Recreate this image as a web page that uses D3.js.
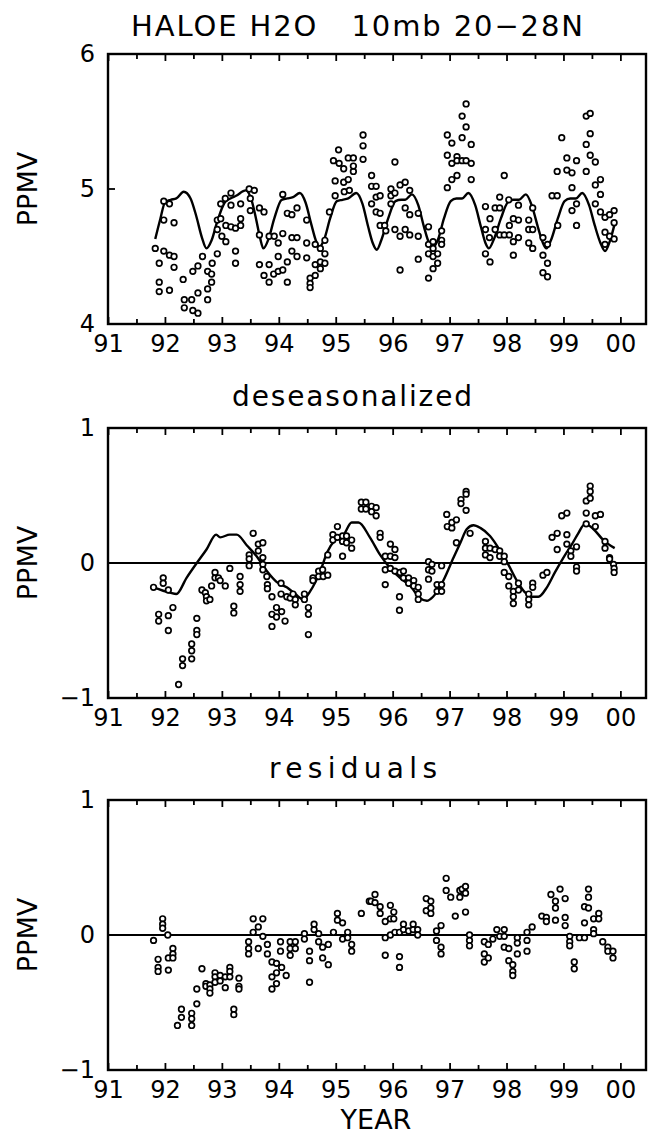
<!DOCTYPE html>
<html>
<head>
<meta charset="utf-8">
<script src="https://cdn.jsdelivr.net/npm/d3@7"></script>
<style>
  body { margin: 0; background: #fff; }
  text { font-family: "DejaVu Sans", "Liberation Sans", sans-serif; fill: #000; }
</style>
</head>
<body>
<svg id="chart"></svg>
<script>
// year ticks and labels
const yearTicks = [91, 92, 93, 94, 95, 96, 97, 98, 99, 100];
const yearLabels = ["91", "92", "93", "94", "95", "96", "97", "98", "99", "00"];
const halfYearTicks = [91.5, 92.5, 93.5, 94.5, 95.5, 96.5, 97.5, 98.5, 99.5];

// panel 1 : HALOE H2O observations [year, ppmv]
const h2oObs = [
  [91.83,4.56],[91.90,4.45],[91.90,4.31],[91.90,4.24],[91.98,4.91],[92.08,4.89],[91.98,4.77],[92.16,4.75],
  [91.98,4.54],[92.08,4.51],[92.16,4.50],[92.16,4.42],[92.08,4.25],[92.32,4.33],[92.34,4.18],[92.34,4.12],
  [92.47,4.18],[92.49,4.39],[92.58,4.43],[92.58,4.23],[92.49,4.10],[92.58,4.08],[92.66,4.50],[92.75,4.39],
  [92.75,4.26],[92.75,4.18],[92.82,4.37],[92.82,4.31],[92.83,4.45],[92.92,4.52],[92.92,4.70],[92.92,4.77],
  [92.98,4.78],[92.98,4.89],[93.06,4.93],[93.00,4.65],[93.07,4.61],[93.07,4.73],[93.16,4.97],[93.16,4.88],
  [93.16,4.72],[93.24,4.71],[93.24,4.54],[93.24,4.45],[93.33,4.89],[93.33,4.78],[93.33,4.73],[93.48,5.00],
  [93.57,4.99],[93.50,4.93],[93.50,4.84],[93.66,4.86],[93.74,4.83],[93.66,4.66],[93.66,4.44],[93.74,4.36],
  [93.83,4.31],[93.83,4.44],[93.83,4.65],[93.92,4.65],[93.91,4.37],[93.99,4.60],[93.99,4.50],[93.99,4.39],
  [94.07,4.40],[94.07,4.67],[94.07,4.96],[94.15,4.46],[94.15,4.31],[94.15,4.82],[94.23,4.64],[94.23,4.54],
  [94.23,4.81],[94.32,4.64],[94.32,4.86],[94.32,4.50],[94.49,4.77],[94.49,4.60],[94.49,4.49],[94.55,4.34],
  [94.55,4.30],[94.55,4.27],[94.64,4.59],[94.64,4.36],[94.64,4.44],[94.73,4.46],[94.73,4.56],[94.73,4.41],
  [94.81,4.62],[94.81,4.52],[94.81,4.45],[94.89,4.83],[94.99,4.95],[94.99,5.06],[94.96,5.21],[95.05,5.29],
  [95.06,5.19],[95.14,5.15],[95.14,5.05],[95.22,5.07],[95.22,5.23],[95.15,4.98],[95.24,4.99],[95.31,5.23],
  [95.31,5.13],[95.31,5.17],[95.48,5.40],[95.48,5.32],[95.48,5.22],
  [95.63,5.10],[95.63,5.02],[95.71,5.02],[95.71,4.94],[95.78,4.95],[95.63,4.89],[95.71,4.83],[95.78,4.82],
  [95.78,4.73],[95.86,4.73],[95.88,4.69],[95.97,5.00],[95.97,4.95],[95.97,4.89],[96.04,5.20],[96.04,4.97],
  [96.04,4.70],[96.13,5.03],[96.22,5.05],[96.13,4.65],[96.22,4.86],[96.22,4.70],[96.30,4.99],[96.30,4.81],
  [96.30,4.66],[96.13,4.40],[96.45,4.82],[96.45,4.65],[96.45,4.48],[96.63,4.72],[96.63,4.59],[96.63,4.52],
  [96.63,4.34],[96.71,4.61],[96.71,4.56],[96.71,4.50],[96.71,4.41],[96.79,4.52],[96.79,4.45],[96.86,4.69],
  [96.86,4.62],[96.86,4.59],[96.96,5.40],[96.96,5.25],[96.96,5.01],[97.04,5.34],[97.04,5.19],[97.04,5.07],
  [97.13,5.24],[97.13,5.21],[97.13,5.10],[97.22,5.54],[97.22,5.38],[97.22,5.21],[97.29,5.63],[97.29,5.46],
  [97.29,5.21],[97.38,5.33],[97.38,5.19],[97.38,5.07],[97.63,4.87],[97.63,4.70],[97.63,4.52],[97.70,4.64],
  [97.71,4.78],[97.71,4.46],[97.80,4.86],[97.80,4.70],[97.88,4.94],[97.88,4.86],[97.88,4.66],[97.96,5.10],
  [97.96,4.66],[98.04,4.92],[98.05,4.73],[98.05,4.66],[98.12,4.78],[98.12,4.61],[98.12,4.51],[98.21,4.88],
  [98.21,4.77],[98.21,4.64],[98.39,4.77],[98.39,4.70],[98.39,4.60],[98.46,4.86],[98.46,4.70],[98.46,4.56],
  [98.64,4.64],[98.64,4.51],[98.64,4.38],[98.72,4.59],[98.72,4.45],[98.72,4.35],[98.80,4.95],[98.89,4.95],
  [98.90,4.73],[98.97,5.38],[99.06,5.23],[99.06,5.14],[99.15,5.12],[99.15,5.01],[99.15,4.84],[99.23,5.21],
  [99.23,4.89],[99.23,4.73],[98.89,5.13],[99.40,5.54],[99.47,5.56],[99.47,5.41],[99.40,5.33],[99.40,5.13],
  [99.47,5.25],[99.56,5.20],[99.56,5.03],[99.65,5.07],[99.65,4.96],[99.56,4.89],[99.65,4.83],[99.73,4.79],
  [99.73,4.68],[99.73,4.59],[99.81,4.81],[99.81,4.65],[99.89,4.84],[99.89,4.75],[99.89,4.63]
];

// panel 1 : fitted seasonal curve [year, ppmv]
const h2oFit = [
  [91.83,4.63],[91.92,4.78],[92.00,4.90],[92.10,4.92],[92.20,4.93],[92.33,4.98],[92.45,4.93],[92.55,4.80],
  [92.65,4.64],[92.73,4.56],[92.82,4.62],[92.92,4.76],[93.05,4.90],[93.15,4.93],[93.25,4.95],[93.42,4.99],
  [93.52,4.92],[93.60,4.78],[93.67,4.64],[93.73,4.56],[93.82,4.63],[93.92,4.78],[94.05,4.92],[94.15,4.93],
  [94.25,4.94],[94.37,4.97],[94.47,4.90],[94.57,4.74],[94.65,4.62],[94.71,4.57],[94.80,4.63],[94.90,4.78],
  [95.02,4.91],[95.12,4.92],[95.22,4.93],[95.36,4.97],[95.47,4.89],[95.57,4.72],[95.65,4.60],[95.72,4.55],
  [95.80,4.62],[95.92,4.78],[96.05,4.91],[96.15,4.92],[96.22,4.92],[96.34,4.96],[96.45,4.88],[96.55,4.72],
  [96.64,4.60],[96.71,4.57],[96.80,4.63],[96.90,4.78],[97.02,4.91],[97.12,4.93],[97.22,4.93],[97.33,4.97],
  [97.45,4.88],[97.55,4.72],[97.63,4.60],[97.69,4.56],[97.78,4.63],[97.90,4.78],[98.02,4.90],[98.12,4.92],
  [98.22,4.92],[98.34,4.96],[98.45,4.87],[98.55,4.72],[98.63,4.61],[98.70,4.56],[98.78,4.62],[98.90,4.78],
  [99.02,4.91],[99.12,4.93],[99.22,4.93],[99.33,4.97],[99.45,4.88],[99.55,4.73],[99.65,4.60],[99.73,4.54],
  [99.82,4.62],[99.91,4.76]
];

// panel 2 : deseasonalized anomalies [year, ppmv]
const deseasObs = [
  [91.80,-0.18],[91.97,-0.11],[91.97,-0.15],[92.06,-0.20],[91.89,-0.38],[91.89,-0.43],[92.06,-0.39],[92.14,-0.33],
  [92.06,-0.50],[92.24,-0.90],[92.31,-0.71],[92.31,-0.76],[92.47,-0.60],[92.47,-0.65],[92.47,-0.71],[92.56,-0.41],
  [92.56,-0.50],[92.56,-0.53],[92.65,-0.20],[92.71,-0.22],[92.73,-0.25],[92.73,-0.28],[92.79,-0.27],[92.82,-0.17],
  [92.88,-0.07],[92.88,-0.11],[92.94,-0.11],[92.97,-0.13],[93.06,-0.17],[93.14,-0.04],[93.21,-0.32],[93.21,-0.37],
  [93.32,-0.10],[93.32,-0.16],[93.32,-0.21],[93.48,0.06],[93.48,0.03],[93.48,-0.02],[93.55,0.22],[93.64,0.14],
  [93.64,0.09],[93.72,0.15],[93.72,0.04],[93.72,-0.01],[93.72,-0.05],[93.79,-0.10],[93.80,-0.16],[93.80,-0.19],
  [93.88,-0.25],[93.88,-0.38],[93.88,-0.47],[93.96,-0.33],[93.96,-0.40],[94.04,-0.15],[94.04,-0.23],[94.05,-0.36],
  [94.11,-0.43],[94.14,-0.25],[94.20,-0.26],[94.25,-0.23],[94.29,-0.27],[94.29,-0.31],[94.45,-0.23],[94.45,-0.27],
  [94.52,-0.33],[94.52,-0.38],[94.52,-0.53],[94.60,-0.11],[94.60,-0.13],[94.70,-0.06],[94.70,-0.10],[94.77,-0.05],
  [94.78,-0.10],[94.86,-0.09],[94.86,0.06],[94.95,0.21],[94.95,0.17],[95.03,0.27],[95.03,0.19],[95.12,0.20],
  [95.12,0.16],[95.12,0.05],[95.19,0.20],[95.19,0.15],[95.28,0.11],[95.28,0.17],[95.45,0.45],[95.45,0.40],
  [95.53,0.45],[95.53,0.40],
  [95.63,0.42],[95.63,0.38],[95.71,0.41],[95.71,0.35],[95.78,0.22],[95.78,0.19],[95.87,0.05],[95.96,0.14],
  [95.96,0.05],[96.04,0.10],[96.04,0.04],[95.87,-0.05],[95.96,-0.04],[96.04,-0.06],[95.87,-0.16],[96.13,-0.07],
  [96.19,-0.06],[96.19,-0.11],[96.28,-0.11],[96.28,-0.15],[96.37,-0.13],[96.37,-0.17],[96.45,-0.18],[96.45,-0.23],
  [96.45,-0.27],[96.12,-0.25],[96.12,-0.35],[96.63,0.01],[96.63,-0.05],[96.69,-0.01],[96.69,-0.06],[96.63,-0.12],
  [96.78,-0.16],[96.78,-0.21],[96.86,-0.16],[96.86,-0.21],[96.86,-0.02],[96.95,0.36],[96.96,0.27],[97.04,0.26],
  [97.04,0.30],[97.12,0.32],[97.12,0.15],[97.20,0.47],[97.20,0.44],[97.29,0.53],[97.29,0.51],[97.29,0.39],
  [97.36,0.22],[97.63,0.16],[97.63,0.11],[97.63,0.06],[97.71,0.11],[97.71,0.04],[97.80,0.10],[97.88,0.09],
  [97.88,0.05],[97.96,0.05],[97.96,0.01],[97.96,-0.07],[98.04,-0.10],[98.04,-0.17],[98.12,-0.21],[98.12,-0.25],
  [98.12,-0.30],[98.21,-0.15],[98.21,-0.20],[98.39,-0.23],[98.39,-0.27],[98.39,-0.31],[98.46,-0.15],[98.46,-0.18],
  [98.64,-0.09],[98.71,-0.07],[98.80,0.19],[98.89,0.22],[98.89,0.10],[98.97,0.35],[99.06,0.37],[99.06,0.21],
  [99.06,0.14],[99.13,0.09],[99.13,0.05],[99.23,0.12],[99.23,-0.03],[99.23,-0.06],[99.40,0.46],[99.40,0.37],
  [99.40,0.29],[99.47,0.57],[99.47,0.53],[99.47,0.48],[99.56,0.35],[99.56,0.27],[99.65,0.36],[99.73,0.16],
  [99.73,0.11],[99.81,0.04],[99.81,0.03],[99.88,-0.01],[99.89,-0.04],[99.89,-0.07]
];

// panel 2 : interannual fit [year, ppmv]
const deseasFit = [
  [91.80,-0.18],[92.09,-0.22],[92.20,-0.23],[92.38,-0.11],[92.56,0.00],[92.73,0.10],[92.90,0.21],[92.97,0.19],
  [93.14,0.21],[93.26,0.21],[93.44,0.13],[93.61,0.05],[93.79,-0.06],[93.96,-0.14],[94.14,-0.18],[94.29,-0.23],
  [94.43,-0.27],[94.55,-0.21],[94.73,-0.06],[94.85,0.08],[94.99,0.17],[95.14,0.21],[95.28,0.30],[95.40,0.30],
  [95.60,0.19],[95.78,0.06],[95.96,-0.04],[96.13,-0.11],[96.31,-0.17],[96.48,-0.26],[96.60,-0.28],[96.71,-0.25],
  [96.89,-0.13],[97.07,0.04],[97.19,0.15],[97.30,0.25],[97.42,0.28],[97.54,0.26],[97.71,0.20],[97.89,0.09],
  [98.03,-0.01],[98.18,-0.13],[98.33,-0.22],[98.45,-0.25],[98.56,-0.25],[98.71,-0.18],[98.85,-0.07],[99.00,0.04],
  [99.15,0.14],[99.26,0.22],[99.38,0.29],[99.53,0.25],[99.70,0.17],[99.90,0.11]
];

// panel 3 : residuals [year, ppmv]
const residObs = [
  [91.80,-0.04],[91.96,0.12],[91.96,0.08],[91.96,0.05],[92.05,0.00],[91.88,-0.18],[91.88,-0.24],[91.88,-0.27],
  [92.06,-0.26],[92.06,-0.17],[92.14,-0.10],[92.14,-0.14],[92.14,-0.17],[92.22,-0.67],[92.29,-0.55],[92.29,-0.61],
  [92.47,-0.58],[92.47,-0.62],[92.47,-0.67],[92.56,-0.51],[92.56,-0.40],[92.65,-0.25],[92.72,-0.36],[92.72,-0.38],
  [92.79,-0.37],[92.79,-0.40],[92.79,-0.43],[92.88,-0.28],[92.88,-0.31],[92.88,-0.35],[92.97,-0.30],[92.97,-0.34],
  [93.06,-0.39],[93.06,-0.31],[93.14,-0.24],[93.14,-0.27],[93.14,-0.31],[93.21,-0.55],[93.21,-0.59],[93.30,-0.32],
  [93.30,-0.38],[93.30,-0.40],[93.47,-0.05],[93.47,-0.10],[93.47,-0.14],[93.55,0.12],[93.55,0.02],[93.64,0.06],
  [93.64,-0.10],[93.72,0.12],[93.72,-0.01],[93.80,-0.07],[93.80,-0.14],[93.88,-0.20],[93.88,-0.31],[93.88,-0.40],
  [93.96,-0.21],[93.96,-0.28],[93.96,-0.36],[94.03,-0.05],[94.03,-0.12],[94.05,-0.24],[94.13,-0.30],[94.20,-0.05],
  [94.20,-0.10],[94.20,-0.15],[94.29,-0.05],[94.29,-0.10],[94.45,0.01],[94.45,-0.03],[94.54,-0.12],[94.54,-0.19],
  [94.54,-0.35],[94.62,0.08],[94.62,0.04],[94.70,0.01],[94.70,-0.05],[94.77,-0.09],[94.77,-0.17],[94.87,-0.07],
  [94.87,-0.22],[94.96,0.02],[95.03,0.16],[95.03,0.11],[95.12,0.09],[95.12,-0.03],[95.21,0.02],[95.21,-0.02],
  [95.28,-0.07],[95.28,-0.12],[95.45,0.16],[95.59,0.25],
  [95.62,0.25],[95.69,0.30],[95.69,0.24],[95.78,0.21],[95.78,0.16],[95.87,0.10],[95.96,0.22],[95.96,0.12],
  [96.02,0.17],[96.02,0.12],[95.87,-0.02],[95.87,-0.15],[95.96,0.00],[96.04,0.02],[96.12,0.02],[96.12,-0.16],
  [96.12,-0.24],[96.19,0.08],[96.19,0.04],[96.28,0.03],[96.36,0.08],[96.36,0.04],[96.44,0.04],[96.44,0.00],
  [96.59,0.27],[96.59,0.18],[96.67,0.25],[96.67,0.20],[96.67,0.16],[96.77,0.03],[96.77,-0.04],[96.85,0.07],
  [96.85,-0.09],[96.85,-0.14],[96.94,0.42],[96.94,0.33],[97.02,0.28],[97.10,0.14],[97.18,0.28],[97.18,0.33],
  [97.22,0.34],[97.28,0.36],[97.28,0.31],[97.28,0.17],[97.35,0.00],[97.35,-0.04],[97.35,-0.08],[97.61,-0.05],
  [97.61,-0.14],[97.61,-0.20],[97.68,-0.07],[97.68,-0.17],[97.76,-0.03],[97.83,0.04],[97.88,-0.01],[97.96,0.04],
  [97.96,-0.01],[97.96,-0.09],[98.04,-0.10],[98.04,-0.19],[98.11,-0.22],[98.11,-0.27],[98.11,-0.30],[98.19,-0.02],
  [98.19,-0.06],[98.19,-0.14],[98.36,0.02],[98.36,-0.04],[98.36,-0.12],[98.45,0.06],[98.62,0.14],[98.70,0.13],
  [98.70,0.10],[98.78,0.30],[98.86,0.25],[98.86,0.20],[98.94,0.34],[99.03,0.27],[98.86,0.11],[99.03,0.13],
  [99.03,0.07],[99.11,-0.01],[99.11,-0.05],[99.11,-0.08],[99.19,-0.20],[99.19,-0.25],[99.28,-0.02],[99.37,0.21],
  [99.44,0.34],[99.44,0.28],[99.44,0.20],[99.37,0.09],[99.37,-0.02],[99.53,0.12],[99.62,0.16],[99.62,0.12],
  [99.53,0.04],[99.53,0.01],[99.69,-0.05],[99.78,-0.09],[99.78,-0.12],[99.87,-0.12],[99.87,-0.17]
];

const W = 649, H = 1138;
const FONT = "DejaVu Sans, Liberation Sans, sans-serif";
const svg = d3.select("#chart").attr("width", W).attr("height", H);
svg.append("rect").attr("width", W).attr("height", H).attr("fill", "#fff");

let x = d3.scaleLinear().domain([91, 100.45]).range([108, 646]);
let panelH = 270;

function drawPanel(top, yDomain, yTicks, yLabels, title, points, fit, zeroLine) {
  let y = d3.scaleLinear().domain(yDomain).range([top + panelH, top]);
  let bottom = top + panelH;

  // x ticks, bottom (with labels) and top, pointing inward
  let gb = svg.append("g").attr("transform", "translate(0," + bottom + ")")
    .call(d3.axisBottom(x).tickValues(yearTicks).tickSize(-7).tickPadding(11)
      .tickFormat((d, i) => yearLabels[i]));
  gb.selectAll("text").attr("font-size", 24).attr("font-family", FONT);
  svg.append("g").attr("transform", "translate(0," + bottom + ")")
    .call(d3.axisBottom(x).tickValues(halfYearTicks).tickSize(-5).tickFormat(""));
  svg.append("g").attr("transform", "translate(0," + top + ")")
    .call(d3.axisTop(x).tickValues(yearTicks).tickSize(-7).tickFormat(""));
  svg.append("g").attr("transform", "translate(0," + top + ")")
    .call(d3.axisTop(x).tickValues(halfYearTicks).tickSize(-5).tickFormat(""));
  svg.selectAll(".domain").remove();
  svg.selectAll(".tick line").attr("stroke-width", 1.8);

  // y labels
  let gl = svg.append("g").attr("transform", "translate(108,0)")
    .call(d3.axisLeft(y).tickValues(yTicks).tickSize(0).tickPadding(13)
      .tickFormat((d, i) => yLabels[i]));
  gl.select(".domain").remove();
  gl.selectAll("text").attr("font-size", 24).attr("font-family", FONT);

  if (!zeroLine) {
    svg.append("line").attr("x1", 108).attr("x2", 115)
      .attr("y1", y(5)).attr("y2", y(5)).attr("stroke", "#000").attr("stroke-width", 1.8);
  } else {
    svg.append("line").attr("x1", x.range()[0]).attr("x2", x.range()[1])
      .attr("y1", y(0)).attr("y2", y(0)).attr("stroke", "#000").attr("stroke-width", 2.2);
  }

  svg.append("text").attr("transform", "translate(37," + (top + panelH / 2) + ") rotate(-90)")
    .attr("text-anchor", "middle").attr("font-size", 27).text("PPMV");

  if (title) {
    svg.append("text").attr("x", title.x).attr("y", top - 22).attr("text-anchor", "middle")
      .attr("font-size", 28).attr("textLength", title.len).attr("lengthAdjust", "spacing")
      .text(title.text);
  }

  // frame
  svg.append("rect").attr("x", x.range()[0]).attr("y", top)
    .attr("width", x.range()[1] - x.range()[0]).attr("height", panelH)
    .attr("fill", "none").attr("stroke", "#000").attr("stroke-width", 2.4);

  if (fit) {
    svg.append("path").datum(fit)
      .attr("d", d3.line().x(d => x(d[0])).y(d => y(d[1])).curve(d3.curveMonotoneX))
      .attr("fill", "none").attr("stroke", "#000").attr("stroke-width", 2.4);
  }

  svg.append("g").selectAll("circle").data(points).enter().append("circle")
    .attr("cx", d => x(d[0])).attr("cy", d => y(d[1])).attr("r", 2.8)
    .attr("fill", "#fff").attr("stroke", "#000").attr("stroke-width", 1.7);
}

drawPanel(54, [4, 6], [4, 5, 6], ["4", "5", "6"], null, h2oObs, h2oFit, false);
drawPanel(428, [-1, 1], [-1, 0, 1], ["\u22121", "0", "1"],
  { text: "deseasonalized", x: 352, len: 240 }, deseasObs, deseasFit, true);
drawPanel(800, [-1, 1], [-1, 0, 1], ["\u22121", "0", "1"],
  { text: "residuals", x: 353, len: 168 }, residObs, null, true);

svg.append("text").attr("x", 357).attr("y", 36).attr("text-anchor", "middle")
  .attr("font-size", 29).attr("textLength", 452).attr("lengthAdjust", "spacing")
  .style("white-space", "pre")
  .text("HALOE H2O   10mb 20\u221228N");

svg.append("text").attr("x", 376).attr("y", 1129).attr("text-anchor", "middle")
  .attr("font-size", 27).text("YEAR");
</script>
</body>
</html>
